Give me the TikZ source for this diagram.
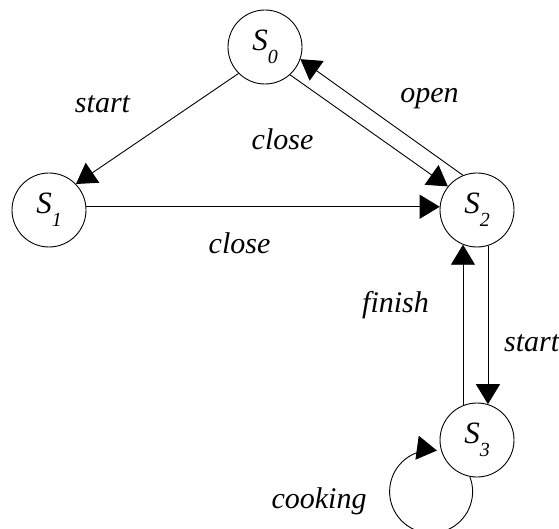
\documentclass[tikz,border=0pt]{standalone}
\usepackage{fontspec}
\setmainfont{Liberation Serif}
\usetikzlibrary{arrows.meta}

\tikzset{
  state/.style={draw, circle, minimum size=74pt, inner sep=0pt, line width=0.9pt,
                font=\fontsize{31}{31}\selectfont\itshape},
  trans/.style={line width=0.9pt, -{Triangle[length=20pt,width=24pt]}},
  lbl/.style={anchor=base, inner sep=0pt, font=\fontsize{30}{30}\selectfont\itshape},
}
\newcommand{\statename}[1]{S\raisebox{-13pt}{\fontsize{20}{20}\selectfont #1}}

\begin{document}
\begin{tikzpicture}[x=1pt,y=1pt]
\useasboundingbox (0,0) rectangle (559,528);

\node[state] (s0) at (265,481) {\statename{0}};
\node[state] (s1) at (49,318) {\statename{1}};
\node[state] (s2) at (477,318) {\statename{2}};
\node[state] (s3) at (477,88) {\statename{3}};

\draw[trans] (s0.225) -- (s1.44);
\draw[trans] (s1.5) -- (s2.175);
\draw[trans] (s0.-48) -- (s2.141);
\draw[trans] (s2.112) -- (s0.-19);
\draw[trans] (s2.-73) -- (s3.73);
\draw[trans] (s3.112) -- (s2.-112);
\draw[trans] (s3.-101) arc[start angle=21, end angle=-278, radius=41.5];

\node[lbl] (l-start) at (102.5,415) {start};
\node[lbl] (l-close) at (282.5,378) {close};
\node[lbl] (l-open) at (429.5,425) {open};
\node[lbl] (l-close2) at (239.5,274) {close};
\node[lbl] (l-finish) at (395.5,216) {finish};
\node[lbl, anchor=base west] (l-start2) at (504,177) {start};
\node[lbl] (l-cooking) at (319,20) {cooking};
\end{tikzpicture}
\end{document}
